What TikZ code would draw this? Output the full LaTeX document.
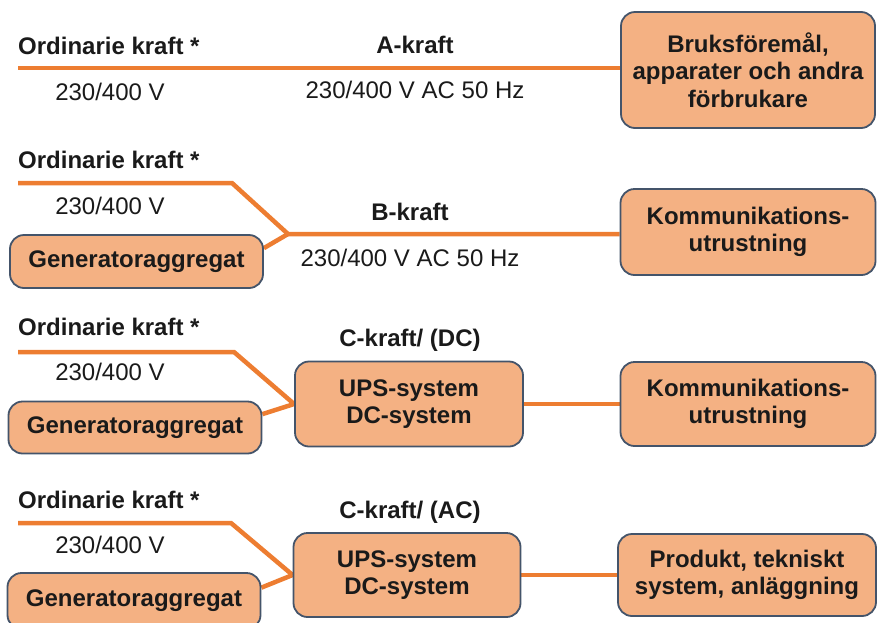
\documentclass[tikz,border=0pt]{standalone}
\usepackage{fontspec}
\setmainfont{Liberation Sans}
\usetikzlibrary{backgrounds}
\definecolor{wire}{HTML}{ED7D31}
\definecolor{boxfill}{HTML}{F4B183}
\definecolor{boxline}{HTML}{44546A}
\definecolor{ink}{HTML}{1A1A1A}
\begin{document}
\begin{tikzpicture}[x=1pt,y=-1pt,
  box/.style={draw=boxline, line width=1.8pt, fill=boxfill, rounded corners=14pt,
    align=center, font=\fontsize{24}{27.5}\selectfont\bfseries, text=ink, inner sep=0pt},
  lbl/.style={font=\fontsize{24}{26}\selectfont\bfseries, text=ink, inner sep=0pt},
  vlt/.style={font=\fontsize{24}{26}\selectfont, text=ink, inner sep=0pt},
  wireline/.style={draw=wire, line width=4.5pt, line join=miter}]
\useasboundingbox (0,0) rectangle (877,622);

% ---------- Row 1 ----------
\node[lbl, anchor=west] (o1) at (18,46) {Ordinarie kraft *};
\node[vlt] (v1) at (110,92) {230/400 V};
\node[lbl] (k1) at (415,45) {A-kraft};
\node[vlt] (f1) at (415,90) {230/400 V AC 50 Hz};
\node[box, minimum width=254pt, minimum height=116pt] (b1) at (748,70)
  {Bruksföremål,\\apparater och andra\\förbrukare};
\coordinate (s1) at (18,68);

% ---------- Row 2 ----------
\node[lbl, anchor=west] (o2) at (18,160) {Ordinarie kraft *};
\node[vlt] (v2) at (110,206) {230/400 V};
\node[lbl] (k2) at (410,212) {B-kraft};
\node[vlt] (f2) at (410,258) {230/400 V AC 50 Hz};
\node[box, minimum width=253pt, minimum height=53pt] (g2) at (136.5,261.5) {Generatoraggregat};
\node[box, minimum width=255pt, minimum height=86pt] (b2) at (748,232)
  {Kommunikations-\\utrustning};
\coordinate (s2) at (18,183);
\coordinate (c2) at (232,183);
\coordinate (j2) at (288,234);

% ---------- Row 3 ----------
\node[lbl, anchor=west] (o3) at (18,327) {Ordinarie kraft *};
\node[vlt] (v3) at (110,372) {230/400 V};
\node[lbl] (k3) at (410,340) {C-kraft/ (DC)};
\node[box, minimum width=253pt, minimum height=52pt] (g3) at (135,427.5) {Generatoraggregat};
\node[box, minimum width=228pt, minimum height=85pt] (u3) at (409,404)
  {UPS-system\\DC-system};
\node[box, minimum width=255pt, minimum height=84pt] (b3) at (748,404)
  {Kommunikations-\\utrustning};
\coordinate (s3) at (18,352);
\coordinate (c3) at (234,352);

% ---------- Row 4 ----------
\node[lbl, anchor=west] (o4) at (18,500) {Ordinarie kraft *};
\node[vlt] (v4) at (110,545) {230/400 V};
\node[lbl] (k4) at (410,512) {C-kraft/ (AC)};
\node[box, minimum width=253pt, minimum height=56pt] (g4) at (134,601) {Generatoraggregat};
\node[box, minimum width=227pt, minimum height=84pt] (u4) at (407,575)
  {UPS-system\\DC-system};
\node[box, minimum width=258pt, minimum height=82pt] (b4) at (747,575)
  {Produkt, tekniskt\\system, anläggning};
\coordinate (s4) at (18,523);
\coordinate (c4) at (231,523);

% ---------- Wires (behind boxes) ----------
\begin{scope}[on background layer]
\draw[wireline] (s1) -- (s1 -| b1.west);
\draw[wireline] (s2) -- (c2) -- (j2) -- (j2 -| b2.west);
\draw[wireline] (g2.6) -- (j2);
\draw[wireline] (s3) -- (c3) -- (u3.west);
\draw[wireline] (g3.6) -- (u3.west);
\draw[wireline] (u3.east) -- (b3.west);
\draw[wireline] (s4) -- (c4) -- (u4.west);
\draw[wireline] (g4.6) -- (u4.west);
\draw[wireline] (u4.east) -- (b4.west);
\end{scope}
\end{tikzpicture}
\end{document}
